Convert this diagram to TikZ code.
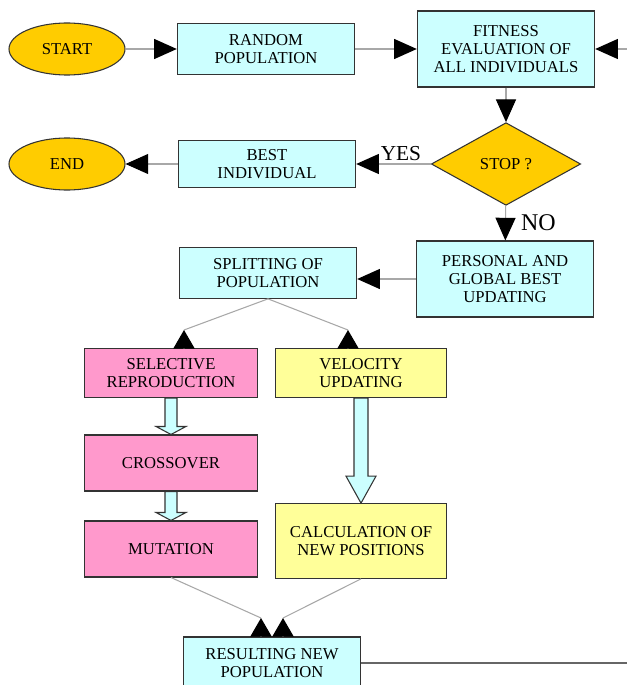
\documentclass[tikz,border=0pt]{standalone}
\usepackage{fontspec}
\setmainfont{Liberation Serif}
\usetikzlibrary{shapes.geometric,arrows.meta,calc}
\definecolor{cyanfill}{HTML}{CCFFFF}
\definecolor{goldfill}{HTML}{FFCC00}
\definecolor{pinkfill}{HTML}{FF99CC}
\definecolor{yellowfill}{HTML}{FFFF99}
\definecolor{linkgray}{HTML}{A8A8A8}
% hollow down arrow: from, to, shaft half width, head length
\newcommand{\fatdown}[4]{%
  \draw[fat] ($(#1)+(-#3,0)$) -- ($(#2)+(-#3,-#4)$) -- ($(#2)+(-15,-#4)$) -- (#2)
    -- ($(#2)+(15,-#4)$) -- ($(#2)+(#3,-#4)$) -- ($(#1)+(#3,0)$) -- cycle;}
\begin{document}
\begin{tikzpicture}[x=0.75pt,y=-0.75pt,
  box/.style={draw=black!80,line width=0.8pt,fill=cyanfill,align=center,inner sep=1pt,
    minimum width=133pt,font=\fontsize{12.5}{13.5}\selectfont},
  oval/.style={box,ellipse,fill=goldfill,minimum width=87pt,minimum height=39pt},
  pinkbox/.style={box,fill=pinkfill,minimum width=130pt},
  yellowbox/.style={box,fill=yellowfill,minimum width=128pt},
  link/.style={draw=linkgray,line width=0.8pt},
  conn/.style={link,-{Triangle[length=17pt,width=15pt,color=black]}},
  uptip/.style={link,{Triangle[length=14pt,width=16pt,color=black]}-},
  fat/.style={draw=black!80,line width=0.8pt,fill=cyanfill}]
\clip (0,0) rectangle (627,685);
\node[oval] (start) at (67,49) {START};
\node[box,minimum height=38pt] (rand) at (266,49) {RANDOM\\POPULATION};
\node[box,minimum height=57pt] (fit) at (506,49) {FITNESS\\EVALUATION OF\\ALL INDIVIDUALS};
\node[box,ellipse,fill=goldfill,diamond,minimum width=112pt,minimum height=62pt,inner sep=0pt]
  (stop) at (506,164) {STOP ?};
\node[box,minimum height=35pt] (best) at (267,164) {BEST\\INDIVIDUAL};
\node[oval] (end) at (67,164) {END};
\node[box,minimum height=57pt] (pers) at (505,279) {PERSONAL AND\\GLOBAL BEST\\UPDATING};
\node[box,minimum height=38pt] (split) at (268,273) {SPLITTING OF\\POPULATION};
\node[pinkbox,minimum height=37pt] (sel) at (171,373) {SELECTIVE\\REPRODUCTION};
\node[yellowbox,minimum height=37pt] (vel) at (361,373) {VELOCITY\\UPDATING};
\node[pinkbox,minimum height=42pt] (cross) at (171,463) {CROSSOVER};
\node[pinkbox,minimum height=42pt] (mut) at (171,549) {MUTATION};
\node[yellowbox,minimum height=56pt] (calc) at (361,541) {CALCULATION OF\\NEW POSITIONS};
\node[box,minimum height=39pt] (res) at (272,663) {RESULTING NEW\\POPULATION};
\coordinate (back) at (627,49);
\coordinate (loop) at (627,663);
\coordinate (a1) at (184,330);
\coordinate (a2) at (348,330);
\coordinate (a3) at (261,618);
\coordinate (a4) at (283,618);

\draw[conn] (start) -- (rand);
\draw[conn] (rand) -- (fit);
\draw[conn] (back) -- (fit);
\draw[conn] (fit) -- (stop);
\draw[conn] (stop) -- (best) node[pos=0.4,above=-1pt,font=\fontsize{16}{16}\selectfont] (yes) {YES};
\draw[conn] (best) -- (end);
\draw[conn] (stop) -- (pers) node[midway,right=8pt,font=\fontsize{18}{18}\selectfont] (no) {NO};
\draw[conn] (pers) -- (pers -| split.east);
\draw[link] (split.south) -- (a1);
\draw[link] (split.south) -- (a2);
\draw[uptip] (a1) -- (a1 |- sel.north);
\draw[uptip] (a2) -- (a2 |- vel.north);
\fatdown{sel.south}{cross.north}{6}{8}
\fatdown{cross.south}{mut.north}{6}{8}
\fatdown{vel.south}{calc.north}{7}{27}
\draw[link] (mut.south) -- (a3);
\draw[link] (calc.south) -- (a4);
\draw[uptip] (a3) -- (a3 |- res.north);
\draw[uptip] (a4) -- (a4 |- res.north);
\draw[link,draw=black!60] (res) -- (loop);
\end{tikzpicture}
\end{document}
